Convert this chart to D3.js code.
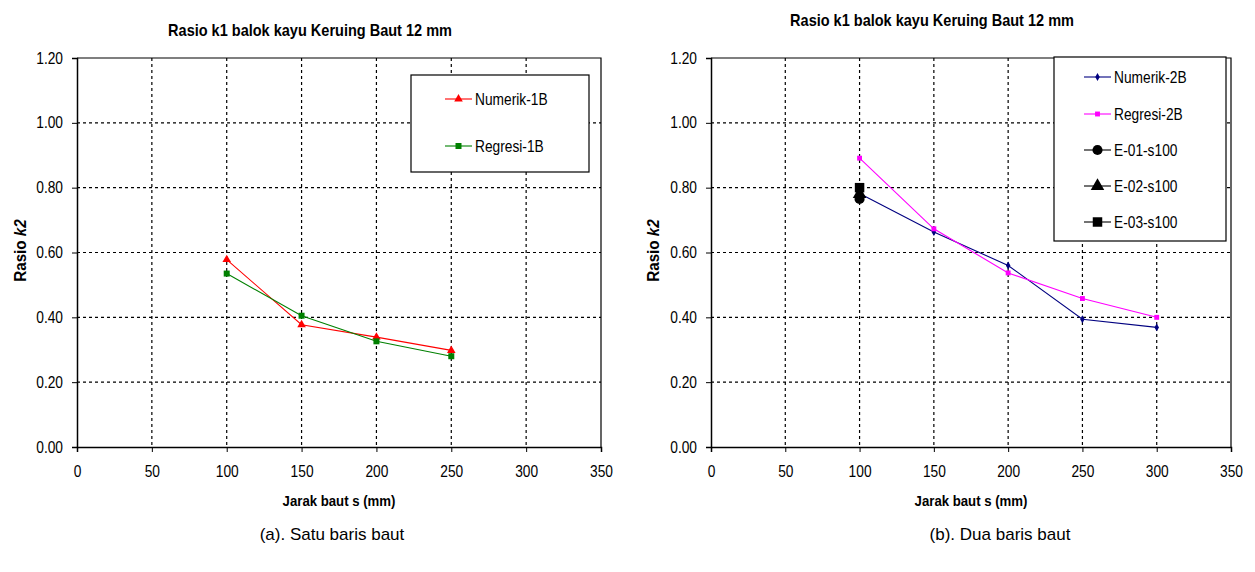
<!DOCTYPE html>
<html>
<head>
<meta charset="utf-8">
<script src="https://cdn.jsdelivr.net/npm/d3@7"></script>
<style>
  body { margin: 0; background: #fff; }
  svg { display: block; font-family: Arial, "Liberation Sans", sans-serif; }
</style>
</head>
<body>
<svg id="chart" width="1255" height="572"></svg>
<script>
// values
const xTicks = [0, 50, 100, 150, 200, 250, 300, 350];
const yTicks = [0, 0.2, 0.4, 0.6, 0.8, 1.0, 1.2];

const jarakA = [100, 150, 200, 250];
const numerik1B = [0.578, 0.377, 0.339, 0.298];
const regresi1B = [0.535, 0.405, 0.326, 0.280];

const jarakB = [100, 150, 200, 250, 300];
const numerik2B = [0.782, 0.663, 0.560, 0.394, 0.369];
const regresi2B = [0.891, 0.673, 0.537, 0.458, 0.400];

const jarakE = [100];
const e01 = [0.765];
const e02 = [0.780];
const e03 = [0.800];

const titleText = 'Rasio k1 balok kayu Keruing Baut 12 mm';
const SX = 0.86; // the original text is narrow

const panels = [
  {
    plot: { x0: 77, x1: 601, y0: 58, y1: 447 },
    titleX: 310, titleY: 30, yLabelX: 20, caption: '(a). Satu baris baut', captionX: 332,
    legend: { x: 411, y: 75, w: 178, h: 97, rows: [99, 146], sx: 445 },
    series: [
      { name: 'Numerik-1B', xs: jarakA, ys: numerik1B, color: '#ff0000', shape: 'triangle', size: 32 },
      { name: 'Regresi-1B', xs: jarakA, ys: regresi1B, color: '#008000', shape: 'square', size: 36 }
    ]
  },
  {
    plot: { x0: 711, x1: 1231, y0: 58, y1: 447 },
    titleX: 932, titleY: 20, yLabelX: 653, caption: '(b). Dua baris baut', captionX: 1000,
    legend: { x: 1054, y: 57, w: 172, h: 184, rows: [77, 114, 150, 186, 222], sx: 1084 },
    series: [
      { name: 'Numerik-2B', xs: jarakB, ys: numerik2B, color: '#000080', shape: 'diamond', size: 18 },
      { name: 'Regresi-2B', xs: jarakB, ys: regresi2B, color: '#ff00ff', shape: 'square', size: 24 },
      { name: 'E-01-s100', xs: jarakE, ys: e01, color: '#000000', shape: 'circle', size: 80 },
      { name: 'E-02-s100', xs: jarakE, ys: e02, color: '#000000', shape: 'triangle', size: 80 },
      { name: 'E-03-s100', xs: jarakE, ys: e03, color: '#000000', shape: 'square', size: 90 }
    ]
  }
];

const symbolTypes = {
  triangle: d3.symbolTriangle,
  square: d3.symbolSquare,
  diamond: d3.symbolDiamond,
  circle: d3.symbolCircle
};

const svg = d3.select('#chart');

panels.forEach(p => drawPanel(p));

// narrow text helper: anchored at (x, y), squeezed horizontally
function narrowText(parent, x, y, str, size, opts = {}) {
  const t = parent.append('text')
    .attr('transform', `translate(${x},${y}) ${opts.rotate ? 'rotate(-90)' : ''} scale(${opts.sx || SX},1)`)
    .attr('text-anchor', opts.anchor || 'middle')
    .attr('dy', opts.dy || '0.35em')
    .style('font-size', size + 'px')
    .style('font-weight', opts.bold ? 'bold' : 'normal');
  t.text(str);
  return t;
}

function drawPanel(p) {
  const { x0, x1, y0, y1 } = p.plot;
  const x = d3.scaleLinear().domain([0, 350]).range([x0, x1]);
  const y = d3.scaleLinear().domain([0, 1.2]).range([y1, y0]);
  const g = svg.append('g');

  // dashed grid
  g.selectAll(null).data(xTicks.slice(1, -1)).enter().append('line')
    .attr('x1', d => x(d)).attr('x2', d => x(d))
    .attr('y1', y0).attr('y2', y1)
    .attr('stroke', '#000').attr('stroke-width', 1.2).attr('stroke-dasharray', '3,3');
  g.selectAll(null).data(yTicks.slice(1, -1)).enter().append('line')
    .attr('x1', x0).attr('x2', x1)
    .attr('y1', d => y(d)).attr('y2', d => y(d))
    .attr('stroke', '#000').attr('stroke-width', 1.2).attr('stroke-dasharray', '3,3');

  // frame top/right
  g.append('path')
    .attr('d', `M${x0},${y0}H${x1}V${y1}`)
    .attr('fill', 'none').attr('stroke', '#000').attr('stroke-width', 1.2);

  const yAxis = d3.axisLeft(y).tickValues(yTicks).tickFormat(d3.format('.2f')).tickSize(5);
  const ay = g.append('g').attr('transform', `translate(${x0},0)`).call(yAxis);
  const xAxis = d3.axisBottom(x).tickValues(xTicks).tickSize(5).tickPadding(14);
  const ax = g.append('g').attr('transform', `translate(0,${y1})`).call(xAxis);
  [ax, ay].forEach(a => {
    a.select('.domain').attr('stroke', '#000').attr('stroke-width', 1.5);
    a.selectAll('.tick line').attr('stroke', '#000');
    a.selectAll('text').attr('fill', '#000').style('font-size', '16px')
      .style('font-family', 'Arial, "Liberation Sans", sans-serif')
      .attr('transform', `scale(${SX},1)`);
  });
  ay.selectAll('.tick text').attr('x', -14 / SX);

  // series
  p.series.forEach(s => {
    const pts = s.xs.map((v, i) => [x(v), y(s.ys[i])]);
    if (pts.length > 1) {
      g.append('path').datum(pts)
        .attr('d', d3.line())
        .attr('fill', 'none').attr('stroke', s.color).attr('stroke-width', 1.1);
    }
    g.selectAll(null).data(pts).enter().append('path')
      .attr('transform', d => `translate(${d[0]},${d[1]})`)
      .attr('d', d3.symbol().type(symbolTypes[s.shape]).size(s.size))
      .attr('fill', s.color);
  });

  // titles
  narrowText(g, p.titleX, p.titleY, titleText, 16.5, { bold: true, sx: 0.88 });

  const yl = narrowText(g, p.yLabelX, (y0 + y1) / 2 - 2, 'Rasio ', 16, { bold: true, rotate: true, sx: 0.95 });
  yl.append('tspan').style('font-style', 'italic').text('k2');

  narrowText(g, (x0 + x1) / 2, 501, 'Jarak baut s (mm)', 15, { bold: true, sx: 0.88 });

  g.append('text')
    .attr('x', p.captionX).attr('y', 534).attr('dy', '0.35em')
    .attr('text-anchor', 'middle').style('font-size', '17px')
    .text(p.caption);

  // legend
  const L = p.legend;
  const lg = g.append('g');
  lg.append('rect')
    .attr('x', L.x).attr('y', L.y).attr('width', L.w).attr('height', L.h)
    .attr('fill', '#fff').attr('stroke', '#000').attr('stroke-width', 1.2);
  p.series.forEach((s, i) => {
    const ry = L.rows[i];
    lg.append('line')
      .attr('x1', L.sx).attr('x2', L.sx + 27).attr('y1', ry).attr('y2', ry)
      .attr('stroke', s.color).attr('stroke-width', 1.1);
    lg.append('path')
      .attr('transform', `translate(${L.sx + 13.5},${ry})`)
      .attr('d', d3.symbol().type(symbolTypes[s.shape]).size(s.size))
      .attr('fill', s.color);
    narrowText(lg, L.sx + 30, ry, s.name, 16, { anchor: 'start', sx: 0.86 });
  });
}
</script>
</body>
</html>
